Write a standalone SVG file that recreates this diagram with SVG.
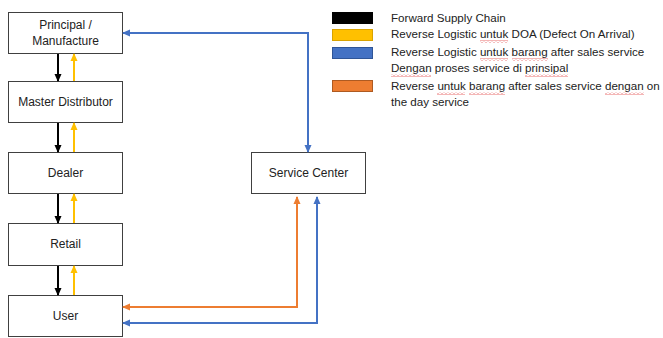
<svg xmlns="http://www.w3.org/2000/svg" width="663" height="338" viewBox="0 0 663 338">
<style>
.box{fill:#fff;stroke:#404040;stroke-width:1}
.t{font-family:"Liberation Sans",Arial,sans-serif;font-size:12px;fill:#222;text-anchor:middle}
.lg{font-family:"Liberation Sans",Arial,sans-serif;font-size:11.6px;fill:#222}
.c{fill:none;stroke-width:2}
.sq{fill:url(#wave)}
</style>
<defs>
<pattern id="wave" patternUnits="userSpaceOnUse" width="4" height="3"><path d="M0,2.5 L2,0.5 L4,2.5" fill="none" stroke="#e03030" stroke-width="0.7"/></pattern>
<marker id="ak" markerWidth="8" markerHeight="8" refX="7" refY="4" orient="auto-start-reverse" markerUnits="userSpaceOnUse"><path d="M0,0.5 L8,4 L0,7.5 z" fill="#000"/></marker>
<marker id="ay" markerWidth="8" markerHeight="8" refX="7" refY="4" orient="auto-start-reverse" markerUnits="userSpaceOnUse"><path d="M0,0.5 L8,4 L0,7.5 z" fill="#ffc000"/></marker>
<marker id="ab" markerWidth="8" markerHeight="8" refX="7" refY="4" orient="auto-start-reverse" markerUnits="userSpaceOnUse"><path d="M0,0.5 L8,4 L0,7.5 z" fill="#4472c4"/></marker>
<marker id="ao" markerWidth="8" markerHeight="8" refX="7" refY="4" orient="auto-start-reverse" markerUnits="userSpaceOnUse"><path d="M0,0.5 L8,4 L0,7.5 z" fill="#ed7d31"/></marker>
</defs>
<rect width="663" height="338" fill="#fff"/>
<g id="principal"><rect class="box" x="8.5" y="12.5" width="114" height="41"/><text class="t" x="65.5" y="29">Principal /</text><text class="t" x="65.5" y="45">Manufacture</text></g>
<g id="master"><rect class="box" x="8.5" y="81.5" width="114" height="41"/><text class="t" x="65.5" y="106">Master Distributor</text></g>
<g id="dealer"><rect class="box" x="8.5" y="152.5" width="114" height="41"/><text class="t" x="65.5" y="177">Dealer</text></g>
<g id="retail"><rect class="box" x="8.5" y="223.5" width="114" height="42"/><text class="t" x="65.5" y="248">Retail</text></g>
<g id="user"><rect class="box" x="8.5" y="295.5" width="114" height="41"/><text class="t" x="65.5" y="320">User</text></g>
<g id="service"><rect class="box" x="251.5" y="152.5" width="114" height="41"/><text class="t" x="308.5" y="177">Service Center</text></g>
<g id="connectors">
<line class="c" stroke="#000" x1="58" y1="54" x2="58" y2="81" marker-end="url(#ak)"/>
<line class="c" stroke="#000" x1="58" y1="123" x2="58" y2="152" marker-end="url(#ak)"/>
<line class="c" stroke="#000" x1="58" y1="194" x2="58" y2="223" marker-end="url(#ak)"/>
<line class="c" stroke="#000" x1="58" y1="266" x2="58" y2="295" marker-end="url(#ak)"/>
<line class="c" stroke="#ffc000" x1="74" y1="81" x2="74" y2="54" marker-end="url(#ay)"/>
<line class="c" stroke="#ffc000" x1="74" y1="152" x2="74" y2="123" marker-end="url(#ay)"/>
<line class="c" stroke="#ffc000" x1="74" y1="223" x2="74" y2="194" marker-end="url(#ay)"/>
<line class="c" stroke="#ffc000" x1="74" y1="295" x2="74" y2="266" marker-end="url(#ay)"/>
<polyline class="c" stroke="#4472c4" points="308,152 308,33 123,33" marker-start="url(#ab)" marker-end="url(#ab)"/>
<polyline class="c" stroke="#ed7d31" points="297,197 297,307 123,307" marker-start="url(#ao)" marker-end="url(#ao)"/>
<polyline class="c" stroke="#4472c4" points="317,197 317,323 123,323" marker-start="url(#ab)" marker-end="url(#ab)"/>
</g>
<g id="legend">
<rect x="332.5" y="12.5" width="40" height="11" fill="#000" stroke="#000"/>
<rect x="332.5" y="29.5" width="40" height="11" fill="#ffc000" stroke="#d9a300"/>
<rect x="332.5" y="47.5" width="40" height="11" fill="#4472c4" stroke="#2f5597"/>
<rect x="332.5" y="80.5" width="40" height="11" fill="#ed7d31" stroke="#ae5a21"/>
<text class="lg" x="391" y="22">Forward Supply Chain</text>
<text class="lg" x="391" y="38">Reverse Logistic untuk DOA (Defect On Arrival)</text>
<text class="lg" x="391" y="56">Reverse Logistic untuk barang after sales service</text>
<text class="lg" x="391" y="72">Dengan proses service di prinsipal</text>
<text class="lg" x="391" y="90">Reverse untuk barang after sales service dengan on</text>
<text class="lg" x="391" y="106">the day service</text>
<rect class="sq" x="480" y="40" width="28" height="3"/>
<rect class="sq" x="480" y="58" width="28" height="3"/>
<rect class="sq" x="512" y="58" width="36" height="3"/>
<rect class="sq" x="391" y="74" width="40" height="3"/>
<rect class="sq" x="525" y="74" width="43" height="3"/>
<rect class="sq" x="437" y="92" width="28" height="3"/>
<rect class="sq" x="469" y="92" width="36" height="3"/>
<rect class="sq" x="605" y="92" width="39" height="3"/>
</g>
</svg>
